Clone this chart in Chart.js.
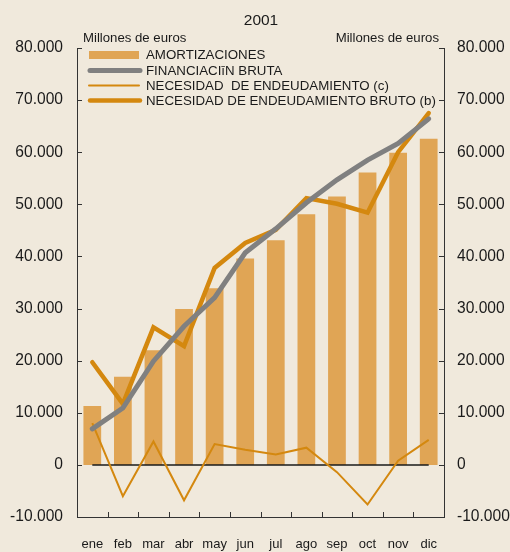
<!DOCTYPE html>
<html>
<head>
<meta charset="utf-8">
<script src="https://cdn.jsdelivr.net/npm/chart.js@4.4.0/dist/chart.umd.min.js"></script>
<style>
  html, body { margin: 0; padding: 0; background: #F0E9DC; }
  #wrap { position: relative; width: 510px; height: 552px; }
</style>
</head>
<body>
<div id="wrap"><canvas id="c"></canvas></div>
<script>
const months = ['ene','feb','mar','abr','may','jun','jul','ago','sep','oct','nov','dic'];
const amortizaciones = [11300, 16900, 22000, 29900, 33900, 39600, 43100, 48100, 51500, 56100, 59900, 62600];
const financiacionBruta = [6900, 10900, 19900, 26600, 32100, 40700, 45300, 50300, 54700, 58500, 61700, 66400];
const necesidadEnd = [8000, -6000, 4500, -6800, 4000, 2900, 2000, 3300, -1400, -7600, 800, 4800];
const necesidadBruto = [19700, 11700, 26400, 22800, 37800, 42600, 45100, 51200, 50100, 48400, 60000, 67500];
const zeroLine = [0,0,0,0,0,0,0,0,0,0,0,0];
const yTickValues = [-10000, 0, 10000, 20000, 30000, 40000, 50000, 60000, 70000, 80000];
const titleText = '2001';
const unitText = 'Millones de euros';
const seriesNames = ['AMORTIZACIONES', 'FINANCIACIīN BRUTA', 'NECESIDAD  DE ENDEUDAMIENTO (c)', 'NECESIDAD DE ENDEUDAMIENTO BRUTO (b)'];

const FONT = '"Liberation Sans", Arial, sans-serif';
const TXT = '#1a1a1a';
const BAR = '#E0A555';
const GRAY = '#808080';
const ORANGE = '#D4880F';

function fmt(v) {
  if (v === 0) return '0';
  const s = Math.abs(v).toString().replace(/\B(?=(\d{3})+(?!\d))/g, '.');
  return (v < 0 ? '-' : '') + s;
}

const decor = {
  id: 'decor',
  afterDraw(chart) {
    const { ctx, chartArea: a, scales } = chart;
    ctx.save();
    ctx.strokeStyle = '#333';
    ctx.lineWidth = 1;
    ctx.beginPath();
    for (const v of yTickValues) {
      const y = Math.round(scales.y.getPixelForValue(v)) + 0.5;
      ctx.moveTo(a.left, y); ctx.lineTo(a.left + 5, y);
      ctx.moveTo(a.right, y); ctx.lineTo(a.right - 5, y);
    }
    const n = months.length;
    for (let i = 1; i < n; i++) {
      const x = Math.round(a.left + i * (a.right - a.left) / n) + 0.5;
      ctx.moveTo(x, a.bottom); ctx.lineTo(x, a.bottom - 5);
    }
    ctx.stroke();

    // titles
    ctx.fillStyle = TXT;
    ctx.textBaseline = 'middle';
    ctx.font = '15.5px ' + FONT;
    ctx.textAlign = 'center';
    ctx.fillText(titleText, 261, 21);
    ctx.font = '13.2px ' + FONT;
    ctx.textAlign = 'left';
    ctx.fillText(unitText, 83, 38);
    ctx.textAlign = 'right';
    ctx.fillText(unitText, 439, 38);

    // legend
    const lx = 89, lw = 50, tx = 146;
    const rows = [55, 70.5, 85.5, 100.5];
    ctx.fillStyle = BAR;
    ctx.fillRect(lx, rows[0] - 4, lw, 8);
    ctx.lineCap = 'round';
    ctx.strokeStyle = GRAY; ctx.lineWidth = 5;
    ctx.beginPath(); ctx.moveTo(lx + 1, rows[1]); ctx.lineTo(lx + lw + 1, rows[1]); ctx.stroke();
    ctx.strokeStyle = ORANGE; ctx.lineWidth = 2;
    ctx.beginPath(); ctx.moveTo(lx, rows[2]); ctx.lineTo(lx + lw, rows[2]); ctx.stroke();
    ctx.lineWidth = 4.5;
    ctx.beginPath(); ctx.moveTo(lx + 1, rows[3]); ctx.lineTo(lx + lw + 1, rows[3]); ctx.stroke();
    ctx.fillStyle = TXT;
    ctx.textAlign = 'left';
    ctx.font = '13.3px ' + FONT;
    seriesNames.forEach((s, i) => ctx.fillText(s, tx, rows[i] + 0.5));
    ctx.restore();
  }
};

new Chart(document.getElementById('c'), {
  type: 'bar',
  data: {
    labels: months,
    datasets: [
      { type: 'bar', label: seriesNames[0], data: amortizaciones, backgroundColor: BAR,
        barPercentage: 0.58, categoryPercentage: 1, order: 5 },
      { type: 'line', label: 'zero', data: zeroLine, borderColor: '#1a1a1a', borderWidth: 1.5,
        pointRadius: 0, order: 4 },
      { type: 'line', label: seriesNames[2], data: necesidadEnd, borderColor: ORANGE, borderWidth: 2,
        pointRadius: 0, tension: 0, order: 3 },
      { type: 'line', label: seriesNames[3], data: necesidadBruto, borderColor: ORANGE, borderWidth: 4.5,
        pointRadius: 0, tension: 0, borderCapStyle: 'round', order: 2 },
      { type: 'line', label: seriesNames[1], data: financiacionBruta, borderColor: GRAY, borderWidth: 5,
        pointRadius: 0, tension: 0, borderCapStyle: 'round', order: 1 }
    ]
  },
  options: {
    responsive: true,
    maintainAspectRatio: false,
    devicePixelRatio: 1,
    animation: false,
    layout: { padding: { top: 48, left: 0, right: 0, bottom: 0 } },
    plugins: { legend: { display: false }, tooltip: { enabled: false }, title: { display: false } },
    scales: {
      x: {
        offset: true,
        grid: { display: false, drawTicks: false },
        border: { display: true, color: '#333', width: 1 },
        ticks: { color: TXT, font: { family: FONT, size: 13 }, padding: 20, maxRotation: 0, autoSkip: false },
        afterFit(s) { s.height = 35; }
      },
      y: {
        position: 'left',
        min: -10000, max: 80000,
        grid: { display: false, drawTicks: false },
        border: { display: true, color: '#333', width: 1 },
        ticks: { stepSize: 10000, color: TXT, font: { family: FONT, size: 15.6 }, padding: 14, callback: v => fmt(v) },
        afterFit(s) { s.width = 77; }
      },
      y2: {
        position: 'right',
        min: -10000, max: 80000,
        grid: { display: false, drawTicks: false },
        border: { display: true, color: '#333', width: 1 },
        ticks: { stepSize: 10000, color: TXT, font: { family: FONT, size: 15.6 }, padding: 13, callback: v => fmt(v) },
        afterFit(s) { s.width = 66; }
      }
    }
  },
  plugins: [decor]
});
</script>
</body>
</html>
